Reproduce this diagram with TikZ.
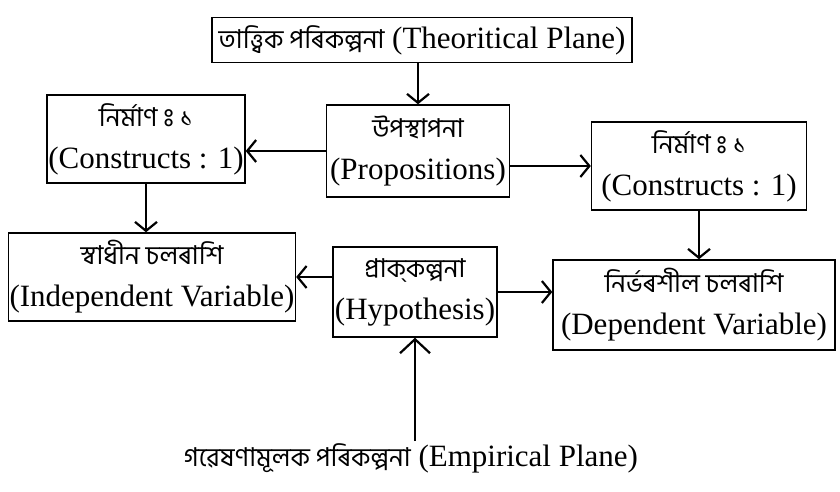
\documentclass[tikz,border=0pt]{standalone}
\usepackage{fontspec}
\setmainfont{Liberation Serif}
\newfontfamily\bnfont[Script=Bengali]{Hind Siliguri}
\usetikzlibrary{arrows.meta}

\newcommand{\bn}[1]{{\bnfont\fontsize{26}{42}\selectfont #1}}
\newcommand{\vsg}{\XeTeXglyph\XeTeXcharglyph"0983\relax}

\begin{document}
\begin{tikzpicture}[x=1pt,y=-1pt,font=\fontsize{31}{42}\selectfont,->,>={Straight Barb[length=9pt,width=22pt]},line width=2.2pt]

		\tikzset{box st/.style={draw, line width=1.4pt, align=center, inner sep=1pt},
		         big tip/.style={-{Straight Barb[length=14pt,width=30pt]}}}

		\useasboundingbox (0,0) rectangle (840,492);

		\node[box st, minimum width=420, minimum height=45] (TP) at (422,40) {\bn{তাত্ত্বিক পৰিকল্পনা} (Theoritical Plane)};
		\node[box st, minimum width=198, minimum height=88] (C1) at (146,139) {\bn{নিৰ্মাণ \vsg{} ১}\\(Constructs : 1)};
		\node[box st, minimum width=183, minimum height=92] (P) at (418,151) {\bn{উপস্থাপনা}\\(Propositions)};
		\node[box st, minimum width=215, minimum height=88] (C2) at (699,166) {\bn{নিৰ্মাণ \vsg{} ১}\\(Constructs : 1)};
		\node[box st, minimum width=285, minimum height=88] (IV) at (152,277) {\bn{স্বাধীন চলৰাশি}\\(Independent Variable)};
		\node[box st, minimum width=164, minimum height=90] (H) at (415,292) {\bn{প্ৰাক্‌কল্পনা}\\(Hypothesis)};
		\node[box st, minimum width=282, minimum height=90] (DV) at (694,305) {\bn{নিৰ্ভৰশীল চলৰাশি}\\(Dependent Variable)};
		\node[inner sep=1pt] (EP) at (411,458) {\bn{গৱেষণামূলক পৰিকল্পনা} (Empirical Plane)};

		\draw (P.north |- TP.south) -- (P.north);
		\draw (P.west) -- (C1.east |- P.west);
		\draw (P.east |- C2.west) -- (C2.west);
		\draw (C1.south) -- (C1.south |- IV.north);
		\draw (C2.south) -- (C2.south |- DV.north);
		\draw (H.west |- IV.east) -- (IV.east);
		\draw (H.east) -- (DV.west |- H.east);
		\draw[big tip] (H.south |- EP.north) -- (H.south);
\end{tikzpicture}
\end{document}
